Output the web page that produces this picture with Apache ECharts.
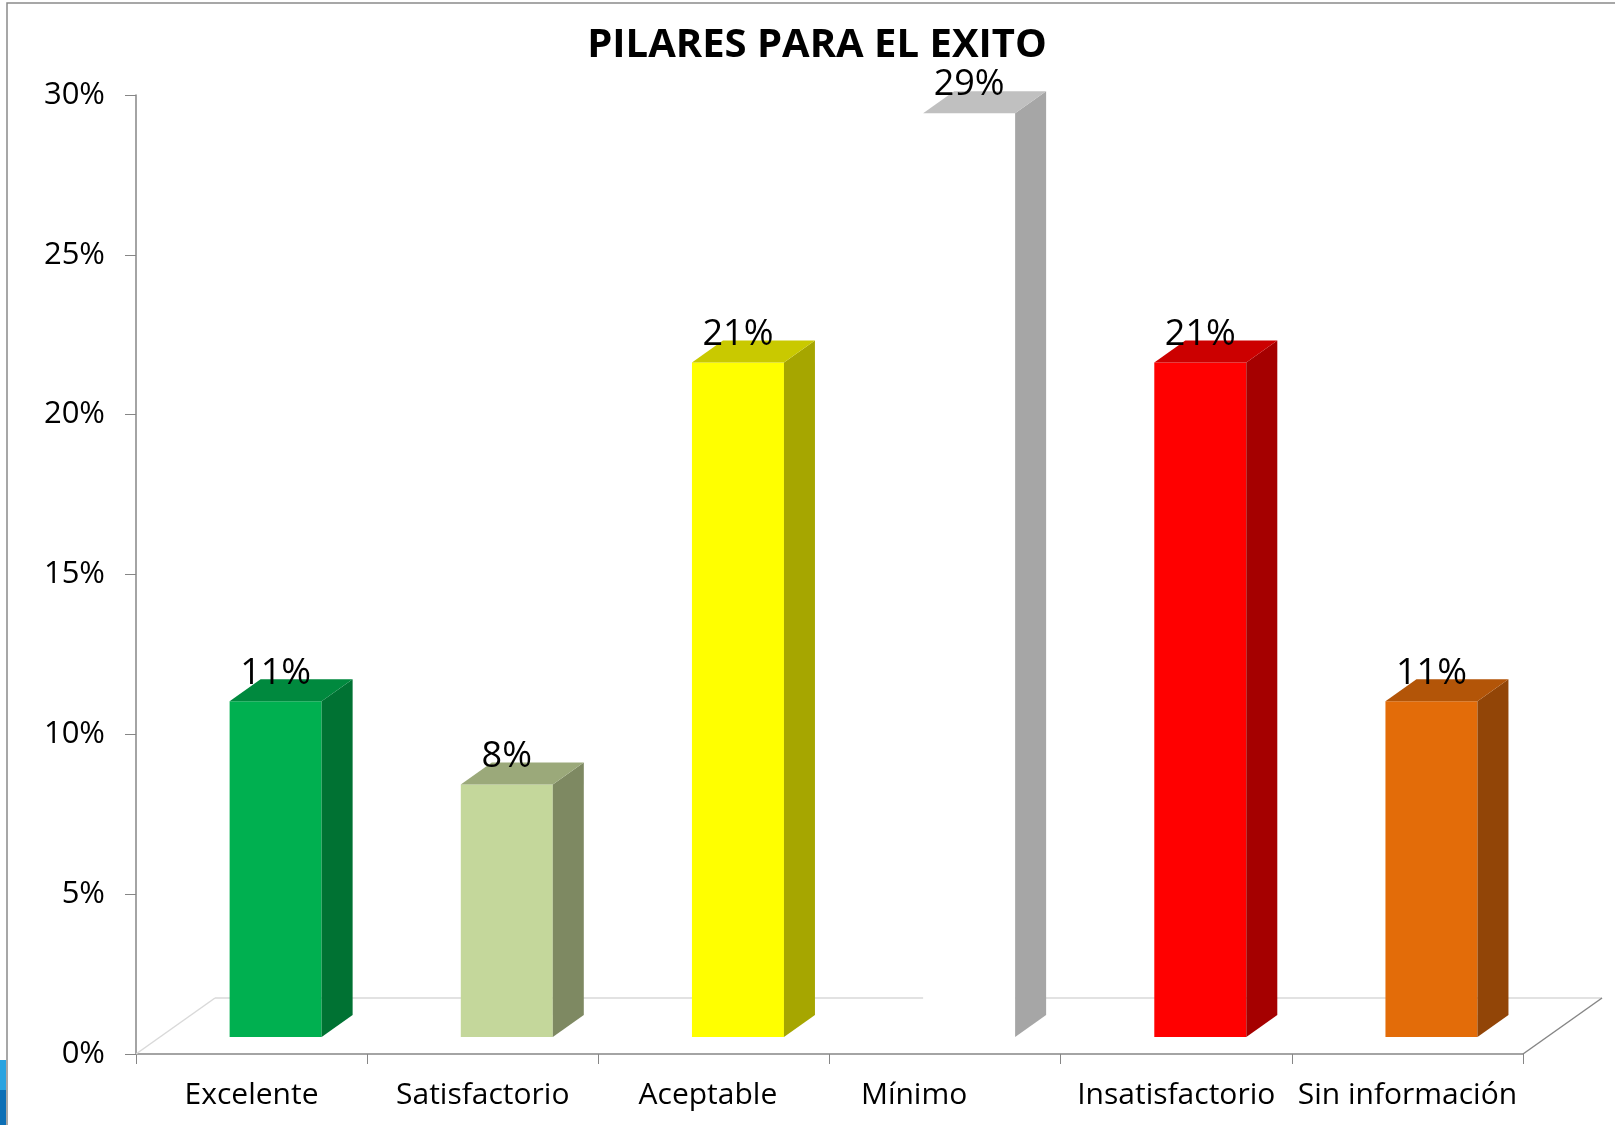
<!DOCTYPE html>
<html>
<head>
<meta charset="utf-8">
<script src="https://cdn.jsdelivr.net/npm/echarts@6/dist/echarts.min.js"></script>
<style>
  html, body { margin: 0; padding: 0; background: #fff; }
  #main { width: 1615px; height: 1125px; }
</style>
</head>
<body>
<div id="main"></div>
<script>
// categorias y porcentajes
var categories = ["Excelente", "Satisfactorio", "Aceptable", "Mínimo", "Insatisfactorio", "Sin información"];
var values = [10.5, 7.9, 21.1, 28.9, 21.1, 10.5];
var yTicks = [0, 5, 10, 15, 20, 25, 30];

// colores de cada cara
var frontColors = ["#00B050", "#C4D79B", "#FFFF00", "#FFFFFF", "#FF0000", "#E36C09"];
var topColors = ["#00893E", "#9BA97A", "#C9C900", "#C0C0C0", "#CC0000", "#B35508"];
var sideColors = ["#007233", "#7E8962", "#A6A600", "#A6A6A6", "#A50000", "#924507"];

var chart = echarts.init(document.getElementById("main"));
var font = "'Open Sans', 'DejaVu Sans', sans-serif";
var DX = 31, DY = 22;   // profundidad de las barras
var FDX = 79, FDY = 56; // profundidad del piso

function renderFloor(params, api) {
  var cs = params.coordSys;
  var x0 = cs.x, y0 = cs.y + cs.height, x1 = cs.x + cs.width;
  return {
    type: "group",
    children: [
      { type: "line", shape: { x1: x0 + FDX, y1: y0 - FDY, x2: x1 + FDX, y2: y0 - FDY }, style: { stroke: "#d9d9d9", lineWidth: 1.5 } },
      { type: "line", shape: { x1: x0, y1: y0, x2: x0 + FDX, y2: y0 - FDY }, style: { stroke: "#d9d9d9", lineWidth: 1.5 } },
      { type: "line", shape: { x1: x1, y1: y0, x2: x1 + FDX, y2: y0 - FDY }, style: { stroke: "#868686", lineWidth: 1.5 } }
    ]
  };
}

function renderBar(params, api) {
  var i = api.value(0), v = api.value(1);
  var p0 = api.coord([i, 0]);
  var p1 = api.coord([i, v]);
  var band = api.size([1, 0])[0];
  var fw = band * 0.398;
  var cx = p0[0] + band * 0.104;
  var base = p0[1] - 17;
  var top = base - (p0[1] - p1[1]);
  var l = cx - fw / 2, r = cx + fw / 2;
  return {
    type: "group",
    children: [
      { type: "polygon", shape: { points: [[l, base], [r, base], [r, top], [l, top]] }, style: { fill: frontColors[i] } },
      { type: "polygon", shape: { points: [[r, base], [r + DX, base - DY], [r + DX, top - DY], [r, top]] }, style: { fill: sideColors[i] } },
      { type: "polygon", shape: { points: [[l, top], [r, top], [r + DX, top - DY], [l + DX, top - DY]] }, style: { fill: topColors[i] } },
      { type: "text", x: cx, y: top - DY - 6, style: { text: Math.round(v) + "%", fill: "#000", font: "36px " + font, align: "center", verticalAlign: "middle" } }
    ]
  };
}

chart.setOption({
  animation: false,
  backgroundColor: "#fff",
  title: {
    text: "PILARES PARA EL EXITO",
    left: 812,
    textAlign: "center",
    top: 21,
    textStyle: { fontFamily: font, fontWeight: "bold", fontSize: 40, color: "#000" }
  },
  graphic: [
    { type: "rect", shape: { x: 7, y: 3, width: 1620, height: 1130 }, style: { fill: null, stroke: "#8a8a8a", lineWidth: 1.5 }, z: 100 },
    { type: "rect", shape: { x: 0, y: 1060, width: 6, height: 30 }, style: { fill: "#29A3E0" } },
    { type: "rect", shape: { x: 0, y: 1090, width: 6, height: 35 }, style: { fill: "#0D6FB5" } }
  ],
  grid: { left: 136, right: 92, top: 95, bottom: 71 },
  xAxis: {
    type: "category",
    data: categories,
    axisLine: { lineStyle: { color: "#868686", width: 1.5 } },
    axisTick: { show: true, length: 10, lineStyle: { color: "#868686" } },
    axisLabel: {
      interval: 0, fontFamily: font, fontSize: 30, color: "#000", margin: 26,
      formatter: function (val) {
        if (val === "Mínimo") return "{m|" + val + "}";
        if (val === "Aceptable") return "{a|" + val + "}";
        return val;
      },
      rich: {
        m: { fontFamily: font, fontSize: 30, color: "#000", padding: [0, 62, 0, 0] },
        a: { fontFamily: font, fontSize: 30, color: "#000", padding: [0, 12, 0, 0] }
      }
    }
  },
  yAxis: {
    type: "value",
    min: yTicks[0],
    max: yTicks[yTicks.length - 1],
    interval: yTicks[1] - yTicks[0],
    axisLine: { show: true, lineStyle: { color: "#868686", width: 1.5 } },
    axisTick: { show: true, length: 11, lineStyle: { color: "#868686" } },
    splitLine: { show: false },
    axisLabel: { formatter: "{value}%", fontFamily: font, fontSize: 31, color: "#000", margin: 31 }
  },
  series: [
    { type: "custom", renderItem: renderFloor, data: [[0, 0]], z: 1, silent: true },
    { type: "custom", renderItem: renderBar, data: values.map(function (v, i) { return [i, v]; }), encode: { x: 0, y: 1 }, z: 2 }
  ]
});
</script>
</body>
</html>
